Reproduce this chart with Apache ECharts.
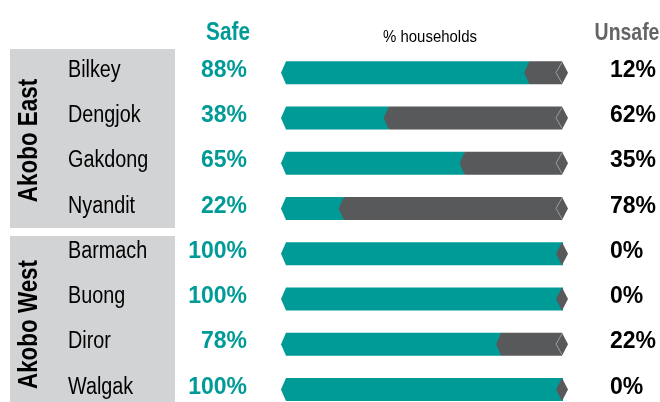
<!DOCTYPE html>
<html>
<head>
<meta charset="utf-8">
<script src="https://cdn.jsdelivr.net/npm/echarts@6/dist/echarts.min.js"></script>
<style>
  html, body { margin: 0; padding: 0; background: #fff; }
  #main { width: 660px; height: 402px; }
</style>
</head>
<body>
<div id="main"></div>
<script>
// values
const villages = ['Bilkey', 'Dengjok', 'Gakdong', 'Nyandit', 'Barmach', 'Buong', 'Diror', 'Walgak'];
const safe = [88, 38, 65, 22, 100, 100, 78, 100];
const unsafe = [12, 62, 35, 78, 0, 0, 22, 0];
const groupNames = ['Akobo East', 'Akobo West'];
const groupStart = [0, 4];
const groupEnd = [3, 7];

const TEAL = '#009b97';
const DARK = '#58595b';
const PANEL = '#d2d3d5';
const FONT = '"Liberation Sans", Arial, sans-serif';

let myChart = echarts.init(document.getElementById('main'));

// narrow text: liberation sans squeezed horizontally (no Arial Narrow here)
function narrowText(x, y, text, font, fill, align, sx, rot) {
  return {
    type: 'text', x: x, y: y, scaleX: sx, rotation: rot || 0,
    style: { x: 0, y: 0, text: text, font: font, fill: fill, align: align, verticalAlign: 'middle' }
  };
}

function renderBar(params, api) {
  let idx = api.value(0);
  let s = api.value(1);
  let u = api.value(2);
  let c = api.coord([0, idx]);
  let cy = c[1];
  let h = 23;
  let top = cy - h / 2, bot = cy + h / 2;
  let x0 = c[0];
  let xs = api.coord([s, idx])[0];
  let x100 = api.coord([100, idx])[0];
  let cs = params.coordSys;
  let kids = [];
  kids.push({
    type: 'polygon',
    shape: { points: [[x0, cy], [x0 + 5, top], [xs + 1, top], [xs + 1, bot], [x0 + 5, bot]] },
    style: { fill: TEAL }
  });
  if (u > 0) {
    kids.push({
      type: 'polygon',
      shape: { points: [[xs - 4, cy], [xs + 1, top], [x100, top], [x100, bot], [xs + 1, bot]] },
      style: { fill: DARK }
    });
  }
  kids.push({
    type: 'polygon',
    shape: { points: [[x100 - 6, cy], [x100, top], [x100 + 6, cy], [x100, bot]] },
    style: { fill: DARK }
  });
  if (u > 0) {
    kids.push({
      type: 'polyline',
      shape: { points: [[x100, top + 1], [x100 - 6, cy], [x100, bot - 1]] },
      style: { stroke: '#9c9d9f', lineWidth: 1, fill: null }
    });
  }
  kids.push(narrowText(68, cy - 2, villages[idx], '23px ' + FONT, '#000', 'left', 0.86));
  kids.push({
    type: 'text',
    style: {
      x: cs.x - 34, y: cy - 2, text: s + '%', align: 'right', verticalAlign: 'middle',
      font: 'bold 23px ' + FONT, fill: TEAL
    }
  });
  kids.push({
    type: 'text',
    style: {
      x: cs.x + cs.width + 48, y: cy - 2, text: u + '%', align: 'left', verticalAlign: 'middle',
      font: 'bold 23px ' + FONT, fill: '#000'
    }
  });
  return { type: 'group', children: kids };
}

function renderPanel(params, api) {
  let i = params.dataIndex;
  let band = api.size([0, 1])[1];
  let yTop = api.coord([0, api.value(0)])[1] - band / 2;
  let yBot = api.coord([0, api.value(1)])[1] + band / 2;
  let y0 = i === 0 ? yTop - 1 : yTop + 5;
  let y1 = yBot - 3;
  return {
    type: 'group',
    children: [
      { type: 'rect', shape: { x: 10, y: y0, width: 165, height: y1 - y0 }, style: { fill: PANEL } },
      narrowText(30, (y0 + y1) / 2 + 2, groupNames[i], 'bold 27px ' + FONT, '#000', 'center', 0.83, Math.PI / 2)
    ]
  };
}

let option = {
  animation: false,
  grid: { left: 281, top: 50, width: 281, height: 362, outerBoundsMode: 'none', containLabel: false },
  xAxis: {
    type: 'value', min: 0, max: 100, show: false
  },
  yAxis: {
    type: 'category',
    data: villages,
    inverse: true,
    show: false
  },
  graphic: [
    narrowText(228, 33, 'Safe', 'bold 25px ' + FONT, TEAL, 'center', 0.83),
    narrowText(430, 37, '% households', '17px ' + FONT, '#000', 'center', 0.88),
    narrowText(627, 33, 'Unsafe', 'bold 24px ' + FONT, '#636466', 'center', 0.81)
  ],
  series: [
    {
      type: 'custom',
      z: 1,
      renderItem: renderPanel,
      data: groupStart.map((s, i) => [s, groupEnd[i]]),
      encode: { y: [0, 1] },
      silent: true,
      clip: false
    },
    {
      type: 'custom',
      z: 3,
      renderItem: renderBar,
      data: villages.map((v, i) => [i, safe[i], unsafe[i]]),
      encode: { y: 0, x: [1, 2] },
      clip: false
    }
  ]
};

option && myChart.setOption(option);
</script>
</body>
</html>
